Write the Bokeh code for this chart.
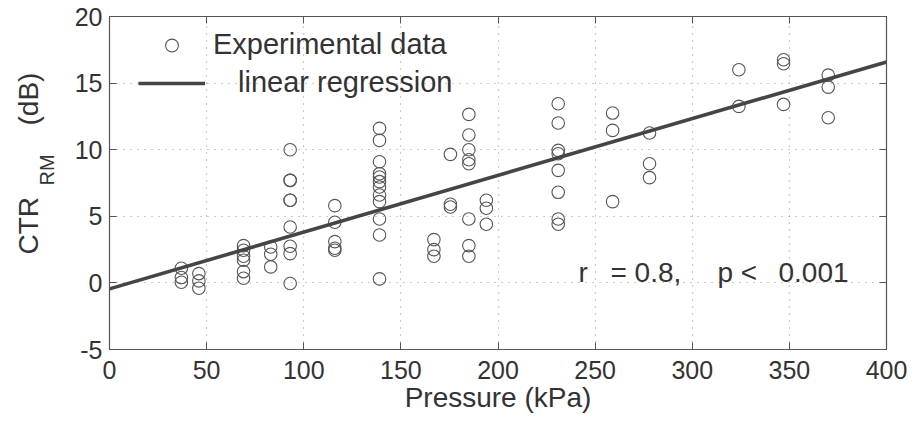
import math
from bokeh.plotting import figure
from bokeh.layouts import row
from bokeh.core.properties import value
from bokeh.models import (Label, Legend, LegendItem, LinearAxis, FixedTicker, Range1d,
                          PrintfTickFormatter)
from bokeh.embed import file_html
from bokeh.resources import INLINE

# ---------------- data ----------------
pressure_kpa = [37, 37, 37,
                46, 46, 46,
                69, 69, 69, 69, 69, 69,
                83, 83, 83,
                93, 93, 93, 93, 93, 93, 93, 93, 93,
                116, 116, 116, 116, 116,
                139, 139, 139, 139, 139, 139, 139, 139, 139, 139, 139, 139,
                167, 167, 167,
                175.5, 175.5, 175.5,
                185, 185, 185, 185, 185, 185, 185, 185,
                194, 194, 194,
                231, 231, 231, 231, 231, 231, 231, 231,
                259, 259, 259,
                278, 278, 278,
                324, 324,
                347, 347, 347,
                370, 370, 370]
ctr_db = [1.1, 0.4, 0.05,
          0.7, 0.15, -0.4,
          2.8, 2.45, 2.0, 1.7, 0.85, 0.35,
          2.7, 2.15, 1.2,
          10.0, 7.7, 7.7, 6.2, 6.2, 4.2, 2.75, 2.2, -0.05,
          5.8, 4.55, 3.1, 2.6, 2.45,
          11.6, 10.7, 9.1, 8.2, 7.95, 7.6, 7.2, 6.6, 6.1, 4.8, 3.6, 0.3,
          3.25, 2.5, 2.0,
          9.65, 5.9, 5.7,
          12.65, 11.1, 10.0, 9.25, 8.95, 4.8, 2.8, 2.0,
          6.2, 5.6, 4.4,
          13.45, 12.0, 9.95, 9.7, 8.45, 6.8, 4.8, 4.4,
          12.75, 11.45, 6.1,
          11.25, 8.95, 7.9,
          16.0, 13.25,
          16.75, 16.45, 13.4,
          15.6, 14.7, 12.4]

reg_intercept = -0.45
reg_slope = 0.0426

x_lim = [0, 400]
y_lim = [-5, 20]
x_ticks = [0, 50, 100, 150, 200, 250, 300, 350, 400]
y_ticks = [-5, 0, 5, 10, 15, 20]

x_label = "Pressure (kPa)"
y_label_parts = ["CTR", "RM", "(dB)"]
legend_labels = ["Experimental data", "linear regression"]
stat_texts = ["r", "= 0.8,", "p <", "0.001"]

# ---------------- styling ----------------
FONT = "Liberation Sans"
TXT = "#333333"
AX = "#555555"
H = 426
LEFT_W = 60
FRAME_TOP, FRAME_BOTTOM = 16, 349   # pixel rows of the plot frame

# ---------------- left strip holding the y-axis title (with subscript) ----------------
# its frame is aligned with the main frame by the row layout; y data = pixels from canvas bottom
lab = figure(width=LEFT_W, height=H, output_backend="svg", toolbar_location=None,
             x_range=Range1d(0, LEFT_W), y_range=Range1d(H - FRAME_BOTTOM, H - FRAME_TOP),
             x_axis_type=None, y_axis_type=None,
             min_border_left=0, min_border_right=0, min_border_top=0, min_border_bottom=0)
lab.outline_line_color = None
lab.grid.visible = False
lab.background_fill_color = "white"
lab.border_fill_color = "white"
ylab_pos = [(27.5, H - 254, "28px"), (46.5, H - 185, "20px"), (28, H - 125, "28px")]
for t, (xs, ys, fs) in zip(y_label_parts, ylab_pos):
    lab.text(x=[xs], y=[ys], text=[t], angle=math.pi / 2,
             text_font=value(FONT), text_font_size=value(fs), text_color=TXT,
             text_align="left", text_baseline="middle")

# ---------------- main plot ----------------
p = figure(width=915 - LEFT_W, height=H, output_backend="svg", toolbar_location=None,
           x_range=Range1d(*x_lim), y_range=Range1d(*y_lim),
           min_border_left=109 - LEFT_W, min_border_right=29, min_border_top=FRAME_TOP,
           min_border_bottom=H - FRAME_BOTTOM)
p.background_fill_color = "white"
p.border_fill_color = "white"
p.outline_line_color = AX
p.outline_line_width = 1.2

for ax in (p.xaxis[0], p.yaxis[0]):
    ax.axis_line_color = AX
    ax.major_tick_line_color = AX
    ax.major_tick_in = 7
    ax.major_tick_out = 0
    ax.minor_tick_line_color = None
    ax.major_label_text_font = FONT
    ax.major_label_text_font_size = "25px"
    ax.major_label_text_color = TXT
    ax.formatter = PrintfTickFormatter(format="%d")

p.xaxis[0].ticker = FixedTicker(ticks=x_ticks)
p.yaxis[0].ticker = FixedTicker(ticks=y_ticks)
p.xaxis[0].major_label_standoff = 11
p.yaxis[0].major_label_standoff = 7
p.xaxis[0].axis_label = x_label
p.xaxis[0].axis_label_text_font = FONT
p.xaxis[0].axis_label_text_font_size = "28px"
p.xaxis[0].axis_label_text_font_style = "normal"
p.xaxis[0].axis_label_text_color = TXT
p.xaxis[0].axis_label_standoff = 0

# mirror axes (box with inward ticks)
top_ax = LinearAxis(ticker=FixedTicker(ticks=x_ticks))
right_ax = LinearAxis(ticker=FixedTicker(ticks=y_ticks))
for ax in (top_ax, right_ax):
    ax.axis_line_color = AX
    ax.major_tick_line_color = AX
    ax.major_tick_in = 7
    ax.major_tick_out = 0
    ax.minor_tick_line_color = None
    ax.major_label_text_font_size = "0px"
    ax.major_label_standoff = 0
    ax.major_label_text_alpha = 0
p.add_layout(top_ax, "above")
p.add_layout(right_ax, "right")

p.xgrid.ticker = FixedTicker(ticks=x_ticks)
p.ygrid.ticker = FixedTicker(ticks=y_ticks)
for g in (p.xgrid[0], p.ygrid[0]):
    g.grid_line_color = "#9a9a9a"
    g.grid_line_dash = "1 6"
    g.grid_line_width = 1.2

sc = p.scatter(pressure_kpa, ctr_db, marker="circle", size=12.5,
               fill_color=None, line_color="#555555", line_width=1.1)

reg_x = x_lim
reg_y = [reg_intercept + reg_slope * v for v in reg_x]
ln = p.line(reg_x, reg_y, line_color="#454545", line_width=3.6)

def mk_legend(item, loc, standoff):
    return Legend(items=[item], location=loc, orientation="vertical",
                  label_text_font=FONT, label_text_font_size="29px",
                  label_text_color=TXT, glyph_width=67, glyph_height=32,
                  label_standoff=standoff, padding=0, margin=0, spacing=0,
                  border_line_alpha=0, background_fill_alpha=0)

p.add_layout(mk_legend(LegendItem(label=legend_labels[0], renderers=[sc]), (29, 288), 8))
p.add_layout(mk_legend(LegendItem(label=legend_labels[1], renderers=[ln]), (29, 250), 33))

stat_x = [241.4, 257.9, 313.0, 344.4]
for t, xv in zip(stat_texts, stat_x):
    p.add_layout(Label(x=xv, y=0.77, text=t, text_font=FONT, text_font_size="28px",
                       text_color=TXT, text_align="left", text_baseline="middle"))

layout = row(lab, p, spacing=0)
open("out.html", "w").write(file_html(layout, INLINE))
